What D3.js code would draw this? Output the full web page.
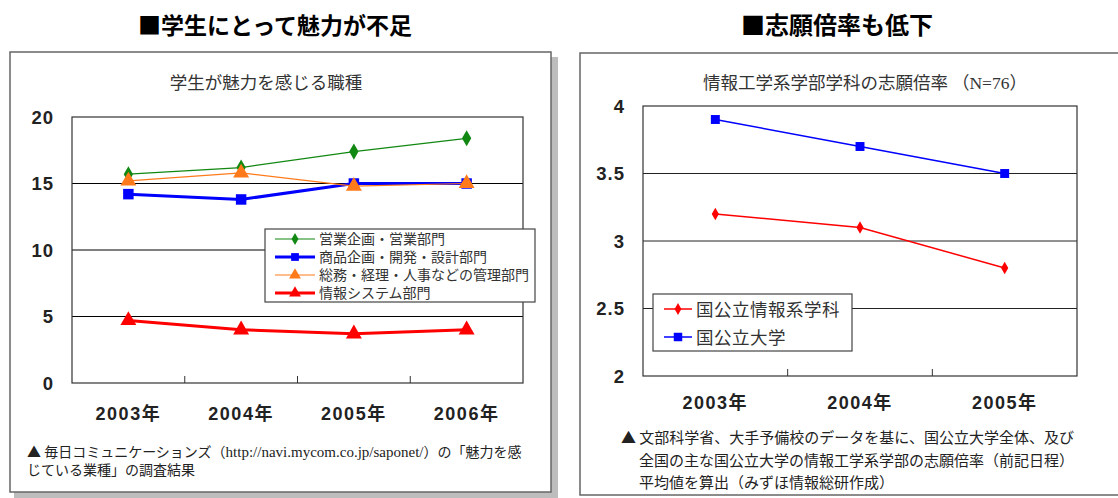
<!DOCTYPE html>
<html>
<head>
<meta charset="utf-8">
<script src="https://cdn.jsdelivr.net/npm/d3@7"></script>
<style>
  body { margin: 0; background: #fff; }
  text { font-family: "Noto Sans CJK JP", sans-serif; }
  .num { font-family: "Liberation Sans", "Noto Sans CJK JP", sans-serif; font-weight: bold; }
</style>
</head>
<body>
<svg id="chart" width="1118" height="498"></svg>
<script>
// left chart: attractive job categories
var years1 = ["2003年", "2004年", "2005年", "2006年"];
var sales = [15.7, 16.2, 17.4, 18.4];
var product = [14.2, 13.8, 15.0, 15.0];
var admin = [15.2, 15.8, 14.8, 15.0];
var infoSys = [4.7, 4.0, 3.7, 4.0];
var ticks1 = [0, 5, 10, 15, 20];
var names1 = ["営業企画・営業部門", "商品企画・開発・設計部門", "総務・経理・人事などの管理部門", "情報システム部門"];

// right chart: application ratio
var years2 = ["2003年", "2004年", "2005年"];
var infoDept = [3.2, 3.1, 2.8];
var allUniv = [3.9, 3.7, 3.5];
var ticks2 = [2, 2.5, 3, 3.5, 4];
var names2 = ["国公立情報系学科", "国公立大学"];

var svg = d3.select("#chart");

// panels with shadow
svg.append("rect").attr("x", 14).attr("y", 57).attr("width", 544).attr("height", 441).attr("fill", "#bdbdbd");
svg.append("rect").attr("x", 10).attr("y", 52).attr("width", 541).attr("height", 440)
    .attr("fill", "#fff").attr("stroke", "#666").attr("stroke-width", 1.5);
svg.append("rect").attr("x", 580).attr("y", 53).attr("width", 545).attr("height", 442)
    .attr("fill", "#fff").attr("stroke", "#666").attr("stroke-width", 1.5);

// headings
svg.append("text").attr("x", 275).attr("y", 34).attr("text-anchor", "middle")
    .attr("font-size", 23).attr("font-weight", "bold").text("■学生にとって魅力が不足");
svg.append("text").attr("x", 837).attr("y", 34).attr("text-anchor", "middle")
    .attr("font-size", 24).attr("font-weight", "bold").text("■志願倍率も低下");

function drawChart(o) {
  var g = svg.append("g");

  var x = d3.scaleBand().domain(o.cats).range([o.left, o.right]).padding(0);
  var y = d3.scaleLinear().domain(o.domain).range([o.bottom, o.top]);
  var cx = function(d) { return x(d) + x.bandwidth() / 2; };

  // gridlines
  g.selectAll(".grid")
      .data(o.ticks.slice(1, -1))
    .enter().append("line")
      .attr("x1", o.left).attr("x2", o.right)
      .attr("y1", function(d) { return y(d); })
      .attr("y2", function(d) { return y(d); })
      .attr("stroke", o.gridColor).attr("stroke-width", 1);

  g.append("rect")
      .attr("x", o.left).attr("y", o.top)
      .attr("width", o.right - o.left).attr("height", o.bottom - o.top)
      .attr("fill", "none").attr("stroke", "#333").attr("stroke-width", 1.2);

  // inner category ticks
  g.selectAll(".ctick")
      .data(o.cats.slice(1))
    .enter().append("line")
      .attr("x1", function(d) { return x(d); })
      .attr("x2", function(d) { return x(d); })
      .attr("y1", o.bottom).attr("y2", o.bottom - 7)
      .attr("stroke", "#333");

  // y labels
  g.selectAll(".ylab")
      .data(o.ticks)
    .enter().append("text")
      .attr("class", "num")
      .attr("x", o.left - 18)
      .attr("y", function(d) { return y(d) + 6.5; })
      .attr("text-anchor", "end")
      .attr("font-size", 18.5)
      .attr("letter-spacing", 1)
      .attr("fill", "#222")
      .text(function(d) { return d; });

  // x labels
  g.selectAll(".xlab")
      .data(o.cats)
    .enter().append("text")
      .attr("class", "num")
      .attr("x", cx)
      .attr("y", o.bottom + o.xlabOffset)
      .attr("text-anchor", "middle")
      .attr("font-size", 18)
      .attr("letter-spacing", 1.5)
      .attr("fill", "#222")
      .text(function(d) { return d; });

  var line = d3.line()
      .x(function(d, i) { return cx(o.cats[i]); })
      .y(function(d) { return y(d); });

  o.series.forEach(function(s) {
    g.append("path")
        .datum(s.values)
        .attr("d", line)
        .attr("fill", "none")
        .attr("stroke", s.color)
        .attr("stroke-width", s.width);
    g.selectAll(null)
        .data(s.values)
      .enter().append("path")
        .attr("transform", function(d, i) { return "translate(" + cx(o.cats[i]) + "," + y(d) + ")"; })
        .attr("d", d3.symbol().type(s.symbol).size(s.size))
        .attr("fill", s.color);
  });

  // legend
  var L = o.legend;
  g.append("rect")
      .attr("x", L.x).attr("y", L.y).attr("width", L.w).attr("height", L.h)
      .attr("fill", "#fff").attr("stroke", "#444").attr("stroke-width", 1.2);
  o.series.forEach(function(s, i) {
    var ly = L.y + L.first + i * L.step;
    g.append("line")
        .attr("x1", L.x + L.pad).attr("x2", L.x + L.pad + L.sample)
        .attr("y1", ly).attr("y2", ly)
        .attr("stroke", s.color).attr("stroke-width", s.width);
    g.append("path")
        .attr("transform", "translate(" + (L.x + L.pad + L.sample / 2) + "," + ly + ")")
        .attr("d", d3.symbol().type(s.symbol).size(s.size * L.symScale))
        .attr("fill", s.color);
    g.append("text")
        .attr("x", L.x + L.pad + L.sample + 4)
        .attr("y", ly + L.fs * 0.38)
        .attr("font-size", L.fs)
        .attr("letter-spacing", L.ls)
        .attr("fill", "#333")
        .text(s.name);
  });

  // chart title
  g.append("text")
      .attr("x", o.titleX).attr("y", 89)
      .attr("text-anchor", "middle")
      .attr("font-size", 17.5)
      .attr("fill", "#333")
      .html(o.title);
}

drawChart({
  cats: years1, domain: [0, 20], ticks: ticks1,
  left: 72, right: 523, top: 117, bottom: 383, xlabOffset: 37,
  gridColor: "#000",
  title: "学生が魅力を感じる職種", titleX: 266,
  series: [
    {name: names1[0], values: sales, color: "#118811", width: 1.2, symbol: d3.symbolDiamond, size: 75},
    {name: names1[1], values: product, color: "#0000ff", width: 3, symbol: d3.symbolSquare, size: 110},
    {name: names1[2], values: admin, color: "#ff7a1a", width: 1.2, symbol: d3.symbolTriangle, size: 110},
    {name: names1[3], values: infoSys, color: "#ff0000", width: 3, symbol: d3.symbolTriangle, size: 110}
  ],
  legend: {x: 265, y: 229, w: 270, h: 73, first: 10, step: 18, pad: 10, sample: 40, fs: 14, ls: 0, symScale: 0.55}
});

drawChart({
  cats: years2, domain: [2, 4], ticks: ticks2,
  left: 643, right: 1077, top: 106, bottom: 376, xlabOffset: 33,
  gridColor: "#222",
  title: "情報工学系学部学科の志願倍率 （<tspan font-family='Liberation Serif'>N=76</tspan>）", titleX: 865,
  series: [
    {name: names2[0], values: infoDept, color: "#ff0000", width: 1.5, symbol: d3.symbolDiamond, size: 45},
    {name: names2[1], values: allUniv, color: "#0000ff", width: 1.5, symbol: d3.symbolSquare, size: 80}
  ],
  legend: {x: 653, y: 294, w: 199, h: 57, first: 15, step: 28, pad: 11, sample: 28, fs: 17.5, ls: 0.5, symScale: 0.9}
});

// footnotes
var note1 = svg.append("text").attr("font-size", 14).attr("fill", "#222");
note1.append("tspan").attr("x", 27).attr("y", 457)
    .html("▲ 毎日コミュニケーションズ（<tspan font-family='Liberation Serif' font-size='15'>http://navi.mycom.co.jp/saponet/</tspan>）の「魅力を感");
note1.append("tspan").attr("x", 27).attr("y", 475).text("じている業種」の調査結果");

var note2 = svg.append("text").attr("font-size", 15).attr("fill", "#222");
note2.append("tspan").attr("x", 621).attr("y", 443).text("▲ 文部科学省、大手予備校のデータを基に、国公立大学全体、及び");
note2.append("tspan").attr("x", 639).attr("y", 466).text("全国の主な国公立大学の情報工学系学部の志願倍率（前記日程）");
note2.append("tspan").attr("x", 639).attr("y", 488).text("平均値を算出（みずほ情報総研作成）");
</script>
</body>
</html>
